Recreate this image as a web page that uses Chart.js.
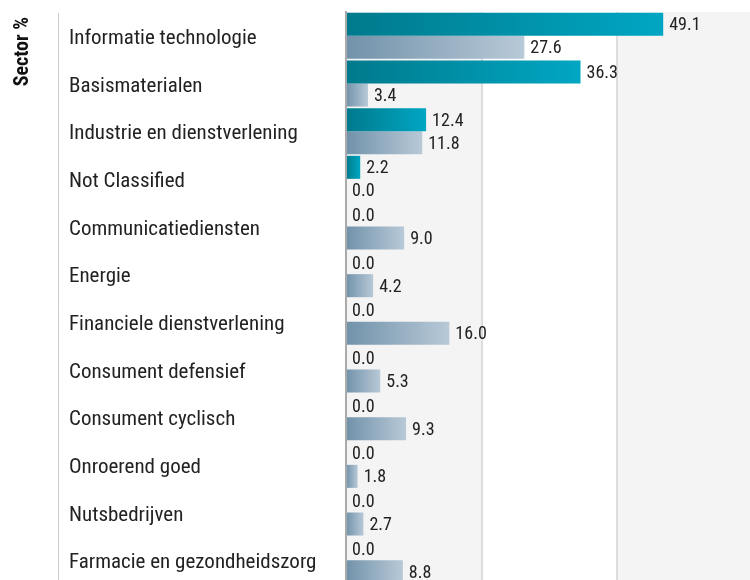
<!DOCTYPE html>
<html>
<head>
<meta charset="utf-8">
<script src="https://cdn.jsdelivr.net/npm/chart.js@4/dist/chart.umd.min.js"></script>
<style>
  html, body { margin: 0; padding: 0; background: #fff; overflow: hidden; width: 750px; height: 580px; }
  #wrap { position: relative; width: 753px; height: 600px; }
</style>
</head>
<body>
<div id="wrap"><canvas id="c" width="753" height="600"></canvas></div>
<script>
const categories = ['Informatie technologie','Basismaterialen','Industrie en dienstverlening','Not Classified','Communicatiediensten','Energie','Financiele dienstverlening','Consument defensief','Consument cyclisch','Onroerend goed','Nutsbedrijven','Farmacie en gezondheidszorg'];
const fundValues = [49.1, 36.3, 12.4, 2.2, 0.0, 0.0, 0.0, 0.0, 0.0, 0.0, 0.0, 0.0];
const benchmarkValues = [27.6, 3.4, 11.8, 0.0, 9.0, 4.2, 16.0, 5.3, 9.3, 1.8, 2.7, 8.8];
const axisTitle = 'Sector %';
const xTicks = [0, 21, 42, 63];

const FONT = '"Roboto Condensed", "Roboto", "Liberation Sans Narrow", sans-serif';

function gradientFill(c0, c1) {
  return (ctx) => {
    const chart = ctx.chart;
    if (!chart.chartArea || ctx.type !== 'data') return c0;
    const xs = chart.scales.x;
    const x0 = xs.getPixelForValue(0);
    const x1 = xs.getPixelForValue(ctx.raw);
    if (x1 - x0 < 1) return c0;
    const g = chart.ctx.createLinearGradient(x0, 0, x1, 0);
    g.addColorStop(0, c0);
    g.addColorStop(1, c1);
    return g;
  };
}

const decorPlugin = {
  id: 'decor',
  beforeDraw(chart) {
    const { ctx, chartArea: a } = chart;
    const xs = chart.scales.x;
    ctx.save();
    for (let i = 0; i < xTicks.length - 1; i++) {
      const l = xs.getPixelForValue(xTicks[i]);
      const r = xs.getPixelForValue(xTicks[i + 1]);
      ctx.fillStyle = i % 2 === 0 ? '#f4f4f4' : '#ffffff';
      ctx.fillRect(l, a.top, r - l, chart.height - a.top);
    }
    // left separator line
    ctx.strokeStyle = '#cccccc';
    ctx.lineWidth = 1;
    ctx.beginPath();
    ctx.moveTo(58.5, 13);
    ctx.lineTo(58.5, chart.height);
    ctx.stroke();
    // axis title
    ctx.translate(22.5, 17);
    ctx.rotate(-Math.PI / 2);
    ctx.fillStyle = '#111';
    ctx.font = 'bold 20px ' + FONT;
    ctx.textAlign = 'right';
    ctx.textBaseline = 'middle';
    ctx.fillText(axisTitle, 0, 0);
    ctx.restore();
  },
  afterDatasetsDraw(chart) {
    const { ctx } = chart;
    ctx.save();
    ctx.fillStyle = '#222';
    ctx.font = '18px ' + FONT;
    ctx.textAlign = 'left';
    ctx.textBaseline = 'middle';
    chart.data.datasets.forEach((ds, di) => {
      const meta = chart.getDatasetMeta(di);
      meta.data.forEach((el, i) => {
        ctx.fillText(Number(ds.data[i]).toFixed(1), el.x + 6, el.y + 1.5);
      });
    });
    ctx.restore();
  }
};

new Chart(document.getElementById('c'), {
  type: 'bar',
  data: {
    labels: categories,
    datasets: [
      { label: 'Fonds', data: fundValues, backgroundColor: gradientFill('#007a8c', '#00a6c3'), borderWidth: 0, categoryPercentage: 0.966, barPercentage: 1.0 },
      { label: 'Benchmark', data: benchmarkValues, backgroundColor: gradientFill('#7192aa', '#b8c9d7'), borderWidth: 0, categoryPercentage: 0.966, barPercentage: 1.0 }
    ]
  },
  options: {
    indexAxis: 'y',
    responsive: false,
    animation: false,
    layout: { padding: { left: 69, top: 12, right: 0, bottom: 16 } },
    plugins: { legend: { display: false }, tooltip: { enabled: false } },
    scales: {
      x: {
        min: 0, max: 63,
        afterBuildTicks: (s) => { s.ticks = xTicks.map(v => ({ value: v })); },
        afterFit: (s) => { s.height = 0; s.paddingLeft = 0; s.paddingRight = 0; },
        ticks: { display: false },
        border: { display: false },
        grid: {
          drawTicks: false,
          lineWidth: 2,
          color: (c) => (c.tick && c.tick.value === 0) ? 'rgba(0,0,0,0)' : '#dddddd'
        }
      },
      y: {
        afterFit: (s) => { s.width = 277; s.paddingTop = 0; s.paddingBottom = 0; },
        border: { display: true, color: '#aaaaaa', width: 2 },
        grid: { display: false, drawTicks: false },
        ticks: {
          crossAlign: 'far',
          labelOffset: 3,
          color: '#222',
          font: { family: FONT, size: 21 }
        }
      }
    }
  },
  plugins: [decorPlugin]
});
</script>
</body>
</html>
